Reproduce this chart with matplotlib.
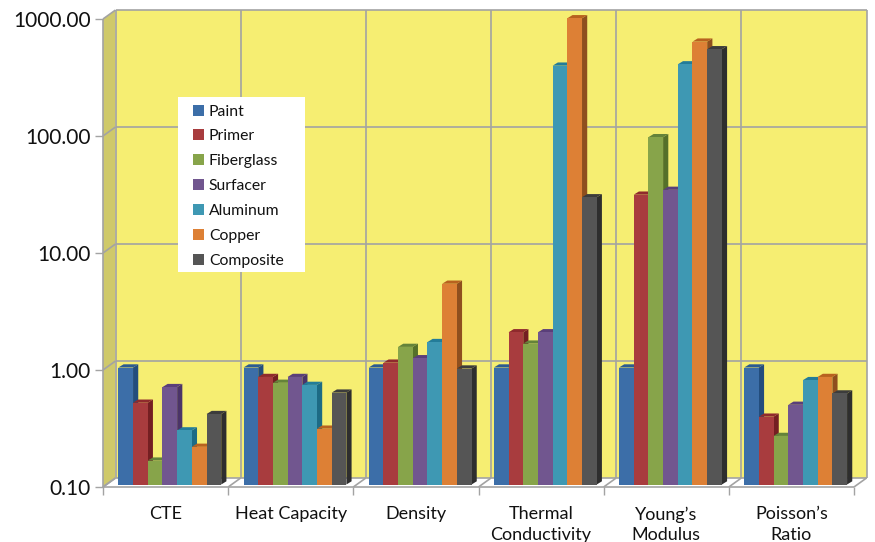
import numpy as np
import matplotlib
matplotlib.use('Agg')
import matplotlib.pyplot as plt
from matplotlib.patches import Patch, Polygon, Rectangle
from matplotlib.transforms import Affine2D, IdentityTransform

plt.rcParams['font.family'] = ['Lato', 'DejaVu Sans']

categories = ['CTE', 'Heat Capacity', 'Density', 'Thermal\nConductivity', 'Young’s\nModulus', 'Poisson’s\nRatio']
materials = ['Paint', 'Primer', 'Fiberglass', 'Surfacer', 'Aluminum', 'Copper', 'Composite']

paint = [1.0, 1.0, 1.0, 1.0, 1.0, 1.0]
primer = [0.50, 0.83, 1.10, 2.0, 30, 0.38]
fiberglass = [0.16, 0.74, 1.50, 1.6, 93, 0.26]
surfacer = [0.68, 0.83, 1.20, 2.0, 33, 0.48]
aluminum = [0.29, 0.71, 1.65, 380, 390, 0.78]
copper = [0.21, 0.30, 5.20, 966, 610, 0.83]
composite = [0.40, 0.61, 0.98, 28.5, 525, 0.60]
series = [paint, primer, fiberglass, surfacer, aluminum, copper, composite]

y_ticks = [0.1, 1, 10, 100, 1000]

front_colors = ['#3c6ea8', '#a83c3e', '#87a44a', '#71568f', '#3e98b3', '#dd8035', '#555555']
side_colors = ['#234d7d', '#741f22', '#55702a', '#4b3468', '#1d6b85', '#8f4f1e', '#2e2e2e']
top_colors = ['#2c5b91', '#8f2a2d', '#64833a', '#5a3f7a', '#237c99', '#b8621f', '#3c3c3c']

GRID = '#a3a3a3'
WALL = '#f6ee72'
SIDE_WALL = '#cfc96a'

# offsets in pixels, y goes up in display coordinates
DEPTH = (12.5, 9.0)
BAR_SHIFT = (4.2, 2.5)
BAR_W = 14.7 / 125.2
BAR_DX, BAR_DY = 5.2, 3.2

fig = plt.figure(figsize=(8.75, 5.42), dpi=100)
ax = fig.add_axes([103 / 875, (542 - 487) / 542, 751 / 875, 468 / 542])
ax.set_yscale('log')
ax.set_xlim(0, 6)
ax.set_ylim(0.1, 1000)
ax.patch.set_visible(False)
for s in ax.spines.values():
    s.set_visible(False)
fig.canvas.draw()


def px(x, y, off=(0, 0)):
    p = ax.transData.transform((x, y))
    return (p[0] + off[0], p[1] + off[1])


def poly(points, color, z, edge='none'):
    ax.add_patch(Polygon(points, closed=True, facecolor=color, edgecolor=edge, lw=1.2,
                         transform=IdentityTransform(), clip_on=False, zorder=z))


def seg(a, b, z=2):
    ax.plot([a[0], b[0]], [a[1], b[1]], color=GRID, lw=1.2, transform=IdentityTransform(),
            clip_on=False, zorder=z, solid_capstyle='butt')


# walls and floor
poly([px(0, 0.1, DEPTH), px(6, 0.1, DEPTH), px(6, 1000, DEPTH), px(0, 1000, DEPTH)], WALL, 1)
poly([px(0, 0.1), px(0, 0.1, DEPTH), px(0, 1000, DEPTH), px(0, 1000)], SIDE_WALL, 1)
poly([px(0, 0.1), px(6, 0.1), px(6, 0.1, DEPTH), px(0, 0.1, DEPTH)], 'white', 1)

for v in y_ticks:
    seg(px(0, v), px(0, v, DEPTH))
    seg(px(0, v, DEPTH), px(6, v, DEPTH))
for i in range(7):
    seg(px(i, 0.1), px(i, 0.1, DEPTH))
    seg(px(i, 0.1, DEPTH), px(i, 1000, DEPTH))
seg(px(0, 0.1), px(0, 1000))
seg(px(0, 0.1), px(6, 0.1))

# bars, left to right so the next front face hides the previous side face
shift = ax.transData + Affine2D().translate(*BAR_SHIFT)
n = len(series)
z = 3
for c in range(len(categories)):
    for k in range(n):
        x0 = c + 0.5 + (k - n / 2) * BAR_W
        x1 = x0 + BAR_W
        top = series[k][c]
        br = shift.transform((x1, 0.1))
        tl = shift.transform((x0, top))
        tr = shift.transform((x1, top))
        poly([br, (br[0] + BAR_DX, br[1] + BAR_DY), (tr[0] + BAR_DX, tr[1] + BAR_DY), tr], side_colors[k], z)
        poly([tl, tr, (tr[0] + BAR_DX, tr[1] + BAR_DY), (tl[0] + BAR_DX, tl[1] + BAR_DY)], top_colors[k], z)
        ax.bar(x0, top - 0.1, width=BAR_W, bottom=0.1, align='edge', color=front_colors[k],
               transform=shift, clip_on=False, zorder=z + 0.5)
        z += 1

# axes text
ax.set_yticks(y_ticks)
ax.set_yticklabels(['%.2f' % v for v in y_ticks], fontsize=15, color='#111111')
ax.tick_params(axis='y', which='major', length=5.8, width=1.0, color=GRID, pad=3)
ax.yaxis.set_minor_locator(matplotlib.ticker.NullLocator())
ax.set_xticks(range(7))
ax.set_xticklabels([])
ax.set_xticks(np.arange(6) + 0.5, minor=True)
ax.set_xticklabels(categories, minor=True, fontsize=13, color='#111111', linespacing=1.35)
ax.tick_params(axis='x', which='major', length=5.8, width=1.0, color=GRID)
ax.tick_params(axis='x', which='minor', length=0, pad=14)

# legend: white box behind a frameless legend, the padding is not even on all sides
fig.add_artist(Rectangle((178 / 875, 1 - 271.5 / 542), 127 / 875, 174.5 / 542, transform=fig.transFigure,
                         facecolor='white', edgecolor='none', zorder=400))
handles = [Patch(facecolor=col, edgecolor='none', label=m) for col, m in zip(front_colors, materials)]
leg = ax.legend(handles=handles, loc='upper left', bbox_to_anchor=(193 / 875, 1 - 104.5 / 542),
                bbox_transform=fig.transFigure, fontsize=11.3, frameon=False, borderaxespad=0, borderpad=0,
                handlelength=0.7, handleheight=0.7, handletextpad=0.31, labelspacing=0.695)
leg.set_zorder(500)
# legend has to sit above the white box, which belongs to the figure
leg.remove()
fig.add_artist(leg)
for t in leg.get_texts():
    t.set_color('#111111')

fig.savefig('out.png', dpi=100)
